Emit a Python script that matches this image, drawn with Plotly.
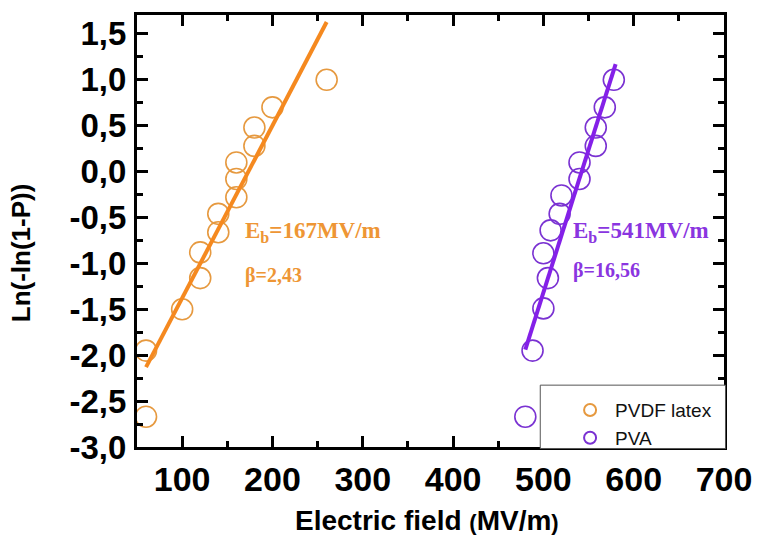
import plotly.graph_objects as go

# PVDF latex data (Weibull plot)
pvdf_x = [60, 60, 100, 120, 120, 140, 140, 160, 160, 160, 180, 180, 200, 260]
pvdf_y = [-2.67, -1.95, -1.50, -1.16, -0.88, -0.66, -0.46, -0.28, -0.08, 0.10, 0.28, 0.48, 0.70, 1.00]
pvdf_fit_x = [60, 260]
pvdf_fit_y = [-2.13, 1.63]

# PVA data
pva_x = [480, 488, 500, 505, 500, 508, 518, 520, 540, 540, 558, 558, 568, 578]
pva_y = [-2.67, -1.95, -1.49, -1.16, -0.89, -0.64, -0.46, -0.26, -0.08, 0.10, 0.28, 0.48, 0.70, 1.00]
pva_fit_x = [480, 580]
pva_fit_y = [-1.94, 1.17]

# tick labels
y_tickvals = [-3.0, -2.5, -2.0, -1.5, -1.0, -0.5, 0.0, 0.5, 1.0, 1.5]
y_ticktext = ["-3,0", "-2,5", "-2,0", "-1,5", "-1,0", "-0,5", "0,0", "0,5", "1,0", "1,5"]
x_tickvals = [100, 200, 300, 400, 500, 600, 700]
x_ticktext = ["100", "200", "300", "400", "500", "600", "700"]

ORANGE_LINE = "#F5891F"
ORANGE_MK = "#E6993F"
ORANGE_TXT = "#EE9635"
PURPLE_LINE = "#8420E8"
PURPLE_MK = "#7A32D2"
PURPLE_TXT = "#8A35E0"

fig = go.Figure()
fig.add_trace(go.Scatter(x=pvdf_x, y=pvdf_y, mode="markers", name="PVDF latex",
                         marker=dict(symbol="circle-open", size=21, color=ORANGE_MK, line=dict(width=1.6))))
fig.add_trace(go.Scatter(x=pva_x, y=pva_y, mode="markers", name="PVA",
                         marker=dict(symbol="circle-open", size=21, color=PURPLE_MK, line=dict(width=1.6))))
fig.add_trace(go.Scatter(x=pvdf_fit_x, y=pvdf_fit_y, mode="lines", showlegend=False,
                         line=dict(color=ORANGE_LINE, width=4)))
fig.add_trace(go.Scatter(x=pva_fit_x, y=pva_fit_y, mode="lines", showlegend=False,
                         line=dict(color=PURPLE_LINE, width=4)))

axis_common = dict(showgrid=False, zeroline=False, showline=True, linecolor="black", linewidth=3,
                   mirror="allticks", ticks="inside", ticklen=11, tickwidth=2.5, tickcolor="black")

fig.update_xaxes(range=[50, 700], tickmode="array", tickvals=x_tickvals, ticktext=x_ticktext,
                 tickfont=dict(family="Arial, Liberation Sans", size=34, color="black", weight="bold"),
                 minor=dict(ticks="inside", ticklen=6, tickwidth=2.5, dtick=50, tick0=0, tickcolor="black"),
                 ticklabelstandoff=0, **axis_common)
fig.update_yaxes(range=[-3.0, 1.706], tickmode="array", tickvals=y_tickvals, ticktext=y_ticktext,
                 tickfont=dict(family="Arial, Liberation Sans", size=33, color="black", weight="bold"),
                 minor=dict(ticks="inside", ticklen=6, tickwidth=2.5, dtick=0.25, tick0=0, tickcolor="black"),
                 ticklabelstandoff=1, **axis_common)

W, H = 764, 538
L, R, T, B = 137, 36, 14, 91
pw, ph = W - L - R, H - T - B

def px(xp):
    return (xp - L) / pw

def py(yp):
    return (H - B - yp) / ph

annotations = [
    dict(x=px(21), y=py(252), xref="paper", yref="paper", text="Ln(-ln(1-P))", textangle=-90,
         showarrow=False, xanchor="center", yanchor="middle",
         font=dict(family="Arial, Liberation Sans", size=26, color="black", weight="bold")),
    dict(x=px(429), y=py(521), xref="paper", yref="paper",
         text="Electric field <span style='font-size:22px'>(</span>MV/m<span style='font-size:22px'>)</span>",
         showarrow=False, xanchor="center", yanchor="middle",
         font=dict(family="Arial, Liberation Sans", size=28, color="black", weight="bold")),
    dict(x=px(244), y=py(232), xref="paper", yref="paper", text="E<sub>b</sub>=167MV/m",
         showarrow=False, xanchor="left", yanchor="middle",
         font=dict(family="Liberation Serif, Times New Roman", size=23, color=ORANGE_TXT, weight="bold")),
    dict(x=px(244), y=py(275), xref="paper", yref="paper", text="β=2,43",
         showarrow=False, xanchor="left", yanchor="middle",
         font=dict(family="Liberation Serif, Times New Roman", size=20, color=ORANGE_TXT, weight="bold")),
    dict(x=px(574), y=py(232), xref="paper", yref="paper", text="E<sub>b</sub>=541MV/m",
         showarrow=False, xanchor="left", yanchor="middle",
         font=dict(family="Liberation Serif, Times New Roman", size=23, color=PURPLE_TXT, weight="bold")),
    dict(x=px(574), y=py(270), xref="paper", yref="paper", text="β=16,56",
         showarrow=False, xanchor="left", yanchor="middle",
         font=dict(family="Liberation Serif, Times New Roman", size=20, color=PURPLE_TXT, weight="bold")),
]

shapes = [
    dict(type="rect", xref="paper", yref="paper", x0=px(543), x1=px(729.5), y0=py(448.5), y1=py(385),
         line=dict(color="#555555", width=1), fillcolor="white", layer="above"),
]

fig.update_layout(
    width=W, height=H, margin=dict(l=L, r=R, t=T, b=B, pad=0),
    paper_bgcolor="white", plot_bgcolor="white", separators=",.",
    annotations=annotations, shapes=shapes,
    legend=dict(x=px(568), y=py(391), xanchor="left", yanchor="top", bgcolor="rgba(0,0,0,0)",
                borderwidth=0, font=dict(family="Arial, Liberation Sans", size=19, color="#111111"),
                itemsizing="constant", itemwidth=40, tracegroupgap=0),
    showlegend=True,
)

fig.write_html("out.html")
